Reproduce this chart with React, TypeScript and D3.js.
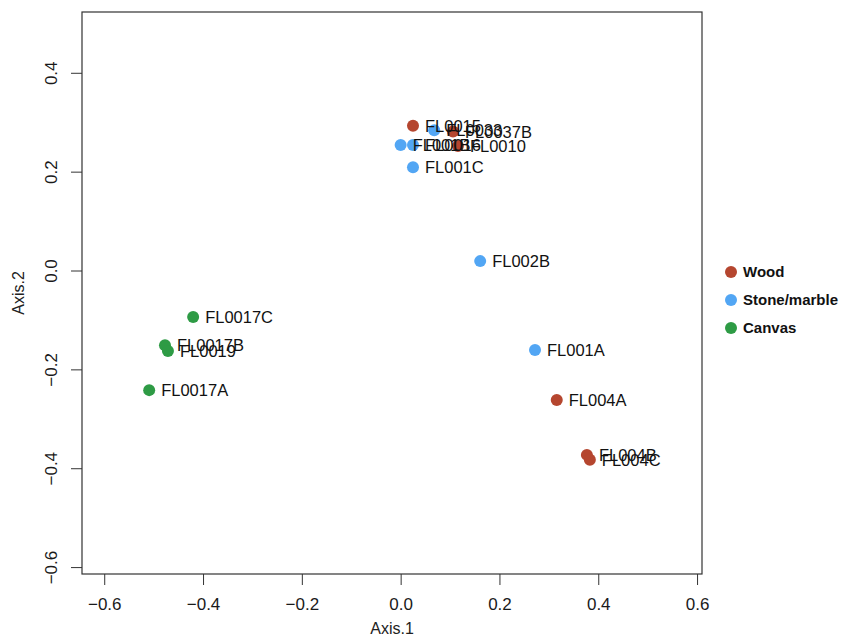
import React, { useEffect, useRef } from "react";
import * as d3 from "d3";

// sample labels, coordinates on the two axes and material group
const labels = [
  "FL0015", "FL0033", "FL0037B", "FL0010", "FL001B", "FL0016", "FL001C",
  "FL002B", "FL001A", "FL004A", "FL004B", "FL004C",
  "FL0017C", "FL0017B", "FL0019", "FL0017A",
];
const axis1 = [
  0.025, 0.068, 0.106, 0.116, 0.0, 0.025, 0.025,
  0.161, 0.272, 0.316, 0.377, 0.383,
  -0.42, -0.477, -0.471, -0.509,
];
const axis2 = [
  0.293, 0.284, 0.281, 0.252, 0.254, 0.254, 0.209,
  0.019, -0.161, -0.262, -0.373, -0.383,
  -0.094, -0.151, -0.163, -0.242,
];
const groups = [
  "Wood", "Stone/marble", "Wood", "Wood", "Stone/marble", "Stone/marble", "Stone/marble",
  "Stone/marble", "Stone/marble", "Wood", "Wood", "Wood",
  "Canvas", "Canvas", "Canvas", "Canvas",
];
const legendNames = ["Wood", "Stone/marble", "Canvas"];
const legendColors = ["#B5462F", "#52A6F4", "#2E9B45"];
const xTicks = [-0.6, -0.4, -0.2, 0.0, 0.2, 0.4, 0.6];
const yTicks = [-0.6, -0.4, -0.2, 0.0, 0.2, 0.4];

const App = () => {
  const svgRef = useRef<SVGSVGElement>(null);

  useEffect(() => {
    const width = 843;
    const height = 640;
    const margin = { top: 12, right: 141, bottom: 66, left: 82 };
    const font = "Liberation Sans, Arial, Helvetica, sans-serif";

    const svg = d3.select(svgRef.current);
    svg.selectAll("*").remove();
    svg.attr("width", width).attr("height", height);

    const x = d3.scaleLinear().domain([-0.645, 0.61]).range([margin.left, width - margin.right]);
    const y = d3.scaleLinear().domain([-0.614, 0.523]).range([height - margin.bottom, margin.top]);
    const color = d3.scaleOrdinal<string, string>().domain(legendNames).range(legendColors);

    const xAxis = d3.axisBottom(x).tickValues(xTicks).tickSize(11).tickPadding(8).tickFormat(d3.format(".1f"));
    const yAxis = d3.axisLeft(y).tickValues(yTicks).tickSize(11).tickPadding(6).tickFormat(d3.format(".1f"));

    const gx = svg.append("g").attr("transform", `translate(0,${height - margin.bottom})`).call(xAxis);
    gx.select(".domain").remove();
    gx.selectAll("text").attr("font-size", 17).attr("font-family", font).attr("fill", "#1a1a1a").attr("dy", "1em");
    gx.selectAll("line").attr("stroke", "#333");

    const gy = svg.append("g").attr("transform", `translate(${margin.left},0)`).call(yAxis);
    gy.select(".domain").remove();
    gy.selectAll("line").attr("stroke", "#333");
    // R style: tick labels parallel to the axis
    gy.selectAll("text")
      .attr("font-size", 17)
      .attr("font-family", font)
      .attr("fill", "#1a1a1a")
      .attr("text-anchor", "middle")
      .attr("x", 0)
      .attr("y", 0)
      .attr("dy", "0.35em")
      .attr("transform", "translate(-31,0) rotate(-90)");

    svg
      .append("rect")
      .attr("x", margin.left)
      .attr("y", margin.top)
      .attr("width", width - margin.left - margin.right)
      .attr("height", height - margin.top - margin.bottom)
      .attr("fill", "none")
      .attr("stroke", "#333")
      .attr("stroke-width", 1.2);

    const idx = d3.range(labels.length);

    svg
      .append("g")
      .selectAll("circle")
      .data(idx)
      .enter()
      .append("circle")
      .attr("cx", (i) => x(axis1[i]))
      .attr("cy", (i) => y(axis2[i]))
      .attr("r", 6)
      .attr("fill", (i) => color(groups[i]));

    svg
      .append("g")
      .selectAll("text")
      .data(idx)
      .enter()
      .append("text")
      .attr("x", (i) => x(axis1[i]) + 12)
      .attr("y", (i) => y(axis2[i]))
      .attr("dy", "0.36em")
      .attr("font-size", 16.5)
      .attr("font-family", font)
      .attr("fill", "#111")
      .text((i) => labels[i]);

    svg
      .append("text")
      .attr("x", (margin.left + width - margin.right) / 2)
      .attr("y", 634)
      .attr("text-anchor", "middle")
      .attr("font-size", 16)
      .attr("font-family", font)
      .attr("fill", "#222")
      .text("Axis.1");

    svg
      .append("text")
      .attr("transform", `translate(24,${(margin.top + height - margin.bottom) / 2}) rotate(-90)`)
      .attr("text-anchor", "middle")
      .attr("font-size", 16)
      .attr("font-family", font)
      .attr("fill", "#222")
      .text("Axis.2");

    const legend = svg.append("g").attr("transform", "translate(731,272)");
    legendNames.forEach((name, i) => {
      const row = legend.append("g").attr("transform", `translate(0,${i * 28})`);
      row.append("circle").attr("r", 6).attr("fill", legendColors[i]);
      row
        .append("text")
        .attr("x", 12)
        .attr("dy", "0.36em")
        .attr("font-size", 15)
        .attr("font-weight", "bold")
        .attr("font-family", font)
        .attr("fill", "#111")
        .text(name);
    });
  }, []);

  return (
    <div style={{ position: "absolute", left: 0, top: 0 }}>
      <svg ref={svgRef}></svg>
    </div>
  );
};

export default App;
